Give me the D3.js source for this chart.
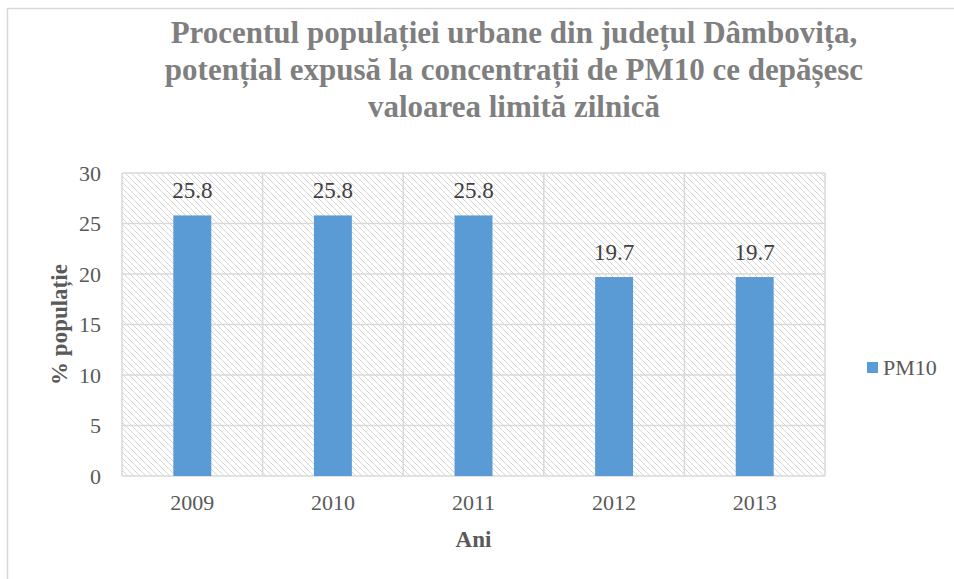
<!DOCTYPE html>
<html>
<head>
<meta charset="utf-8">
<script src="https://cdn.jsdelivr.net/npm/d3@7"></script>
<style>
  body { margin: 0; background: #fff; }
</style>
</head>
<body>
<div id="chart"></div>
<script>
// datos del gráfico
const years = ['2009', '2010', '2011', '2012', '2013']
const pm10 = [25.8, 25.8, 25.8, 19.7, 19.7]
const yTicks = [0, 5, 10, 15, 20, 25, 30]
const titleLines = [
    'Procentul populației urbane din județul Dâmbovița,',
    'potențial expusă la concentrații de PM10 ce depășesc',
    'valoarea limită zilnică'
]

const config = {
    width: 954,
    height: 579,
    plot: { left: 122, right: 825, top: 173, bottom: 476 },
    barColor: '#5b9bd5',
    gridColor: '#d9d9d9',
    textColor: '#595959',
    font: '"Liberation Serif"',
    titleWidth: 706,
}

const svg = d3.select('#chart')
    .append('svg')
    .attr('width', config.width)
    .attr('height', config.height)

// patrón rayado del fondo del área de trazado
const pattern = svg.append('defs')
    .append('pattern')
    .attr('id', 'hatch')
    .attr('patternUnits', 'userSpaceOnUse')
    .attr('width', 6)
    .attr('height', 6)
pattern.append('rect').attr('width', 6).attr('height', 6).attr('fill', '#fff')
pattern.append('path')
    .attr('d', 'M-1,-1 L7,7 M-4,2 L2,8 M4,-2 L8,2')
    .attr('stroke', '#d6d6d6')
    .attr('stroke-width', 1)

// borde exterior
svg.append('rect')
    .attr('x', 7.5).attr('y', 8.5)
    .attr('width', 1000).attr('height', 1000)
    .attr('fill', 'none')
    .attr('stroke', '#d9d9d9')
    .attr('stroke-width', 1.5)

const p = config.plot
const x = d3.scaleBand().domain(years).range([p.left, p.right]).paddingInner(0).paddingOuter(0)
const y = d3.scaleLinear().domain([0, 30]).range([p.bottom, p.top])

svg.append('rect')
    .attr('x', p.left).attr('y', p.top)
    .attr('width', p.right - p.left).attr('height', p.bottom - p.top)
    .attr('fill', 'url(#hatch)')

// líneas de cuadrícula horizontales
svg.append('g')
    .selectAll('line')
    .data(yTicks)
    .enter()
    .append('line')
    .attr('x1', p.left).attr('x2', p.right)
    .attr('y1', d => y(d)).attr('y2', d => y(d))
    .attr('stroke', config.gridColor)
    .attr('stroke-width', 1.5)

// líneas verticales entre categorías
svg.append('g')
    .selectAll('line')
    .data(years)
    .enter()
    .append('line')
    .attr('x1', d => x(d)).attr('x2', d => x(d))
    .attr('y1', p.top).attr('y2', p.bottom)
    .attr('stroke', config.gridColor)
    .attr('stroke-width', 1.5)
svg.append('line')
    .attr('x1', p.right).attr('x2', p.right)
    .attr('y1', p.top).attr('y2', p.bottom)
    .attr('stroke', config.gridColor)
    .attr('stroke-width', 1.5)

// barras
const barWidth = x.bandwidth() * 0.27
svg.append('g')
    .selectAll('rect')
    .data(pm10)
    .enter()
    .append('rect')
    .attr('x', (d, i) => x(years[i]) + x.bandwidth() / 2 - barWidth / 2)
    .attr('y', d => y(d))
    .attr('width', barWidth)
    .attr('height', d => y(0) - y(d))
    .attr('fill', config.barColor)

// etiquetas de datos
svg.append('g')
    .selectAll('text')
    .data(pm10)
    .enter()
    .append('text')
    .attr('x', (d, i) => x(years[i]) + x.bandwidth() / 2)
    .attr('y', d => y(d) - 17)
    .attr('text-anchor', 'middle')
    .style('font-family', config.font)
    .style('font-size', '23px')
    .attr('fill', '#404040')
    .text(d => d.toFixed(1))

// eje Y
const yAxis = svg.append('g')
    .attr('transform', `translate(${p.left},0)`)
    .call(d3.axisLeft(y).tickValues(yTicks).tickSize(0).tickPadding(21))
yAxis.select('.domain').remove()
yAxis.selectAll('text')
    .style('font-family', config.font)
    .style('font-size', '22px')
    .attr('fill', config.textColor)

// eje X
const xAxis = svg.append('g')
    .attr('transform', `translate(0,${p.bottom})`)
    .call(d3.axisBottom(x).tickSize(0).tickPadding(18))
xAxis.select('.domain').remove()
xAxis.selectAll('text')
    .style('font-family', config.font)
    .style('font-size', '22px')
    .attr('fill', config.textColor)

// títulos de ejes
svg.append('text')
    .attr('x', (p.left + p.right) / 2)
    .attr('y', 547)
    .attr('text-anchor', 'middle')
    .style('font-family', config.font)
    .style('font-size', '23px')
    .style('font-weight', 'bold')
    .attr('fill', config.textColor)
    .text('Ani')

svg.append('text')
    .attr('transform', `translate(67,${(p.top + p.bottom) / 2}) rotate(-90)`)
    .attr('text-anchor', 'middle')
    .style('font-family', config.font)
    .style('font-size', '23px')
    .style('font-weight', 'bold')
    .attr('fill', config.textColor)
    .text('% populație')

// título: se escala horizontalmente para ajustar el ancho de la primera línea
const title = svg.append('g')
const titleText = title.selectAll('text')
    .data(titleLines)
    .enter()
    .append('text')
    .attr('x', 0)
    .attr('y', (d, i) => 43 + i * 37)
    .attr('text-anchor', 'middle')
    .style('font-family', config.font)
    .style('font-size', '31px')
    .style('font-weight', 'bold')
    .attr('fill', '#7f7f7f')
    .text(d => d)
const natural = titleText.node().getComputedTextLength()
const sx = Math.min(1, config.titleWidth / natural)
title.attr('transform', `translate(514,0) scale(${sx},1)`)

// leyenda
const legend = svg.append('g').attr('transform', 'translate(867,362)')
legend.append('rect')
    .attr('width', 11).attr('height', 11)
    .attr('fill', config.barColor)
legend.append('text')
    .attr('x', 16).attr('y', 13)
    .style('font-family', config.font)
    .style('font-size', '22px')
    .attr('fill', config.textColor)
    .text('PM10')
</script>
</body>
</html>
